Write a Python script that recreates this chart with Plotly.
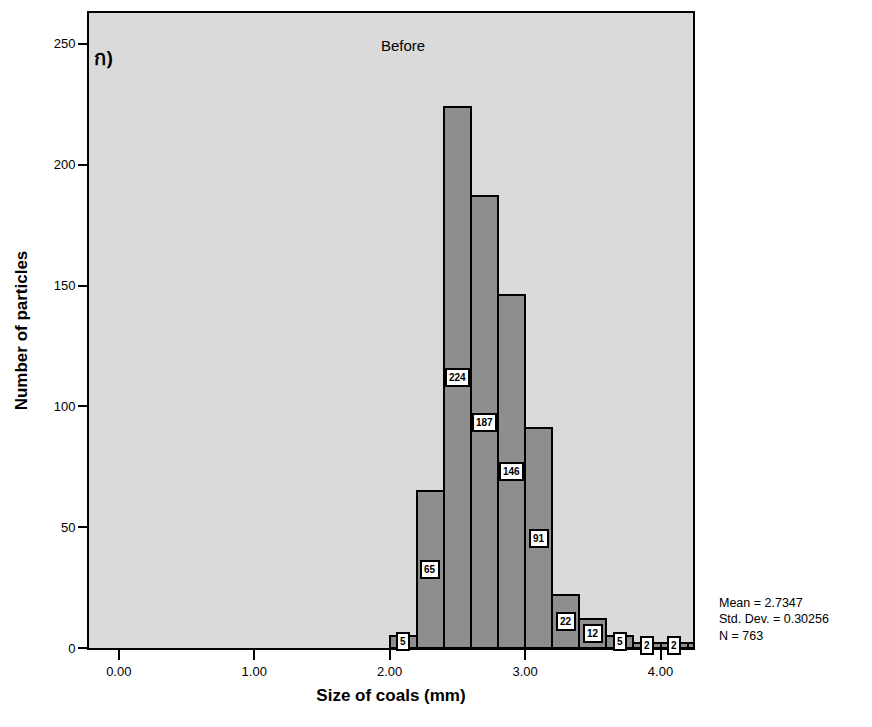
import plotly.graph_objects as go

# Histogram bins (lower edges, mm) and counts
bin_starts = [2.0, 2.2, 2.4, 2.6, 2.8, 3.0, 3.2, 3.4, 3.6, 3.8, 4.0, 4.2]
counts = [5, 65, 224, 187, 146, 91, 22, 12, 5, 2, 2, 2]
bin_width = 0.2

x_ticks = [0, 1, 2, 3, 4]
x_tick_labels = ["0.00", "1.00", "2.00", "3.00", "4.00"]
y_ticks = [0, 50, 100, 150, 200, 250]

stats_lines = ["Mean = 2.7347", "Std. Dev. = 0.30256", "N = 763"]

x_range = [-0.22, 4.24]
y_range = [0, 262.8]

centers = [s + bin_width / 2 for s in bin_starts]

fig = go.Figure()
fig.add_trace(go.Bar(
    x=centers, y=counts, width=bin_width,
    marker=dict(color="#8e8e8e", line=dict(color="black", width=2)),
    showlegend=False, hoverinfo="skip",
))

annotations = []
for c, n in zip(centers, counts):
    if c > x_range[1]:
        continue
    annotations.append(dict(
        x=c, y=n / 2, xref="x", yref="y", text=f"<b>{n}</b>",
        showarrow=False, bgcolor="white", bordercolor="black", borderwidth=2,
        borderpad=2, font=dict(family="Arial, Liberation Sans", size=10, color="black"),
    ))

annotations.append(dict(
    x=0.52, y=0.965, xref="paper", yref="paper", text="Before", showarrow=False,
    xanchor="center", yanchor="top",
    font=dict(family="Arial, Liberation Sans", size=15, color="black"),
))
annotations.append(dict(
    x=0.005, y=0.955, xref="paper", yref="paper", text="<b>ก)</b>", showarrow=False,
    xanchor="left", yanchor="top",
    font=dict(family="Noto Sans, DejaVu Sans", size=20, color="black"),
))
annotations.append(dict(
    x=1.04, y=0.085, xref="paper", yref="paper", text="<br>".join(stats_lines),
    showarrow=False, xanchor="left", yanchor="top", align="left",
    font=dict(family="Arial, Liberation Sans", size=12.5, color="black"),
))

fig.update_layout(
    width=872, height=727,
    margin=dict(l=89, r=179, t=11, b=79),
    paper_bgcolor="white", plot_bgcolor="#dadada",
    bargap=0,
    annotations=annotations,
    font=dict(family="Arial, Liberation Sans", color="black"),
)
fig.update_xaxes(
    range=x_range, tickvals=x_ticks, ticktext=x_tick_labels,
    ticks="outside", ticklen=10, tickwidth=2, tickcolor="black",
    showgrid=False, zeroline=False, showline=True, linecolor="black", linewidth=2,
    mirror=True, tickfont=dict(size=13),
    title=dict(text="<b>Size of coals (mm)</b>", font=dict(size=17), standoff=12),
)
fig.update_yaxes(
    range=y_range, tickvals=y_ticks,
    ticks="outside", ticklen=9, tickwidth=2, tickcolor="black",
    showgrid=False, zeroline=False, showline=True, linecolor="black", linewidth=2,
    mirror=True, tickfont=dict(size=13),
    title=dict(text="<b>Number of particles</b>", font=dict(size=17), standoff=22),
)

fig.write_html("out.html")
